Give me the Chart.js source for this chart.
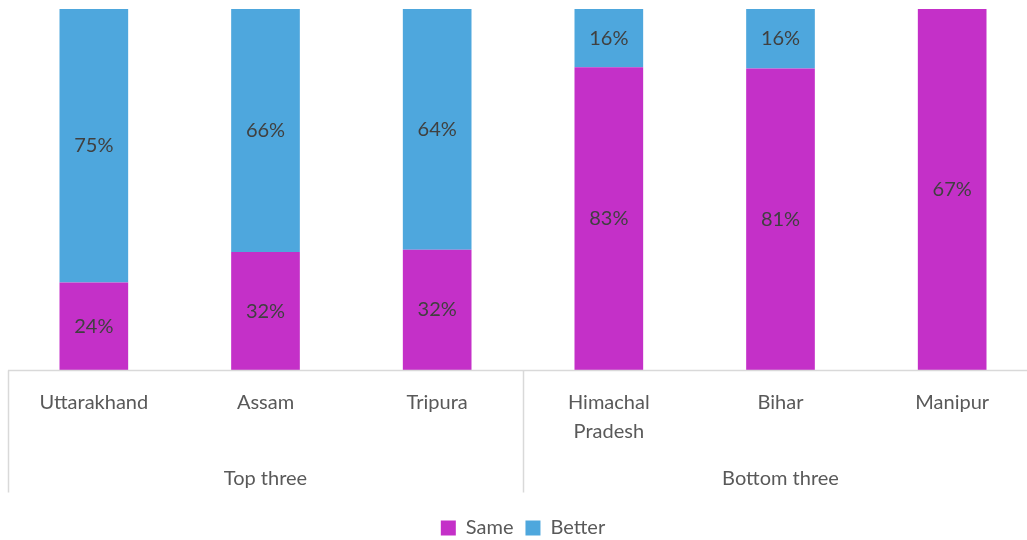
<!DOCTYPE html>
<html>
<head>
<meta charset="utf-8">
<script src="https://cdn.jsdelivr.net/npm/chart.js@4.4.0/dist/chart.umd.min.js"></script>
<style>
  html, body { margin: 0; padding: 0; background: #fff; overflow: hidden; }
  #wrap { width: 1027px; height: 540px; overflow: hidden; position: relative; }
  #box { width: 1050px; height: 540px; position: absolute; left: 0; top: 0; }
</style>
</head>
<body>
<div id="wrap"><div id="box"><canvas id="chart"></canvas></div></div>
<script>
// ── Data ──────────────────────────────────────────────────
const states = [['Uttarakhand'], ['Assam'], ['Tripura'], ['Himachal', 'Pradesh'], ['Bihar'], ['Manipur']];
const groups = ['Top three', 'Bottom three'];
const groupSize = [3, 3];
const same   = [24, 32, 32, 83, 81, 67];
const better = [75, 66, 64, 16, 16, null];

const FONT = "Lato, 'Open Sans', sans-serif";
const AXIS_GREY = '#d9d9d9';

// 100% stacked: share of each category's total
const totals = same.map((v, i) => (v || 0) + (better[i] || 0));
const pct = arr => arr.map((v, i) => v == null ? null : v / totals[i] * 100);

// ── Plugin: data labels, category axis, group labels ─────
const decor = {
  id: 'decor',
  afterDatasetsDraw(chart) {
    const ctx = chart.ctx;
    const raw = [same, better];
    ctx.save();
    ctx.font = '20px ' + FONT;
    ctx.fillStyle = '#404040';
    ctx.textAlign = 'center';
    ctx.textBaseline = 'middle';
    chart.data.datasets.forEach((ds, di) => {
      chart.getDatasetMeta(di).data.forEach((bar, i) => {
        if (raw[di][i] == null) return;
        const p = bar.getProps(['x', 'y', 'base'], true);
        ctx.fillText(raw[di][i] + '%', p.x, (p.y + p.base) / 2);
      });
    });
    ctx.restore();
  },
  afterDraw(chart) {
    const ctx = chart.ctx;
    const x = chart.scales.x;
    const area = chart.chartArea;
    const step = x.getPixelForValue(1) - x.getPixelForValue(0);
    const edge = i => x.getPixelForValue(i) - step / 2;
    const yAxis = Math.round(area.bottom) + 0.5;
    ctx.save();
    ctx.strokeStyle = AXIS_GREY;
    ctx.lineWidth = 1.5;
    ctx.beginPath();
    ctx.moveTo(edge(0), yAxis);
    ctx.lineTo(edge(states.length), yAxis);
    let k = 0;
    [0, ...groupSize].forEach(n => {
      k += n;
      ctx.moveTo(Math.round(edge(k)) + 0.5, yAxis);
      ctx.lineTo(Math.round(edge(k)) + 0.5, yAxis + 122);
    });
    ctx.stroke();

    ctx.font = '20px ' + FONT;
    ctx.fillStyle = '#595959';
    ctx.textAlign = 'center';
    ctx.textBaseline = 'middle';
    states.forEach((lines, i) => {
      lines.forEach((t, j) => ctx.fillText(t, x.getPixelForValue(i), yAxis + 32 + j * 29));
    });
    let start = 0;
    groups.forEach((g, gi) => {
      const mid = (edge(start) + edge(start + groupSize[gi])) / 2;
      ctx.fillText(g, mid, yAxis + 108);
      start += groupSize[gi];
    });
    ctx.restore();
  }
};

new Chart(document.getElementById('chart'), {
  type: 'bar',
  data: {
    labels: states.map(s => s.join(' ')),
    datasets: [
      { label: 'Same',   data: pct(same),   backgroundColor: '#c430c8', barPercentage: 0.8, categoryPercentage: 0.5 },
      { label: 'Better', data: pct(better), backgroundColor: '#4ea7dd', barPercentage: 0.8, categoryPercentage: 0.5 },
    ],
  },
  options: {
    responsive: true,
    maintainAspectRatio: false,
    animation: false,
    layout: { padding: { top: 9, left: 8, right: 12, bottom: -8 } },
    plugins: {
      tooltip: { enabled: false },
      legend: {
        position: 'bottom',
        labels: {
          color: '#595959',
          font: { family: FONT, size: 20 },
          boxWidth: 15,
          boxHeight: 15,
          padding: 12,
        },
      },
    },
    scales: {
      x: {
        stacked: true,
        grid: { display: false },
        border: { display: false },
        ticks: { display: false },
        afterFit: s => { s.height = 136; },
      },
      y: {
        stacked: true,
        display: false,
        min: 0,
        max: 100,
      },
    },
  },
  plugins: [decor],
});
</script>
</body>
</html>
